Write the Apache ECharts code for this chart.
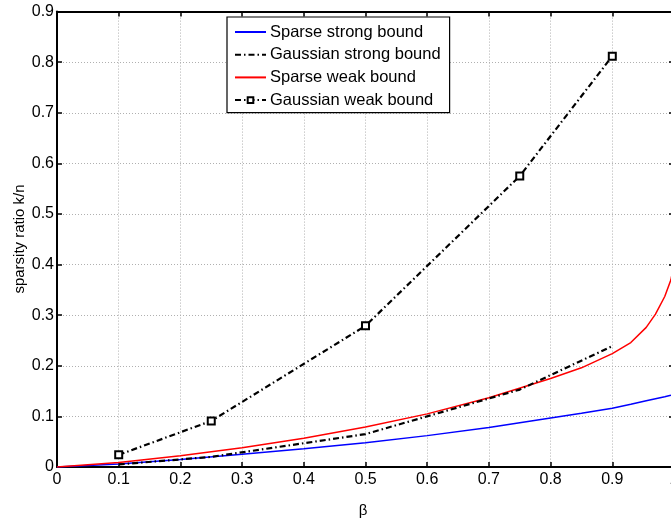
<!DOCTYPE html>
<html>
<head>
<meta charset="utf-8">
<script src="https://cdn.jsdelivr.net/npm/echarts@6/dist/echarts.min.js"></script>
<style>html,body{margin:0;padding:0;background:#fff}#c{width:671px;height:521px}</style>
</head>
<body>
<div id="c"></div>
<script>
// ---- data ----
const betaFine = [0, 0.1, 0.2, 0.3, 0.4, 0.5, 0.6, 0.7, 0.8, 0.85, 0.9, 0.93, 0.955, 0.97, 0.985, 0.995, 1.0];
const sparseStrong = [0, 0.006, 0.015, 0.025, 0.036, 0.048, 0.062, 0.078, 0.097, 0.106, 0.116, 0.124, 0.131, 0.135, 0.139, 0.142, 0.144];
const sparseWeak = [0, 0.009, 0.022, 0.038, 0.057, 0.079, 0.105, 0.137, 0.175, 0.196, 0.224, 0.246, 0.276, 0.302, 0.337, 0.37, 0.40];
const betaGauss = [0.1, 0.25, 0.5, 0.75, 0.9];
const gaussStrong = [0.005, 0.02, 0.065, 0.153, 0.239];
const gaussWeak = [0.024, 0.091, 0.279, 0.575, 0.812];
const seriesNames = ['Sparse strong bound', 'Gaussian strong bound', 'Sparse weak bound', 'Gaussian weak bound'];
const xTitle = 'β';
const yTitle = 'sparsity ratio k/n';

const pairs = (xs, ys) => xs.map((x, i) => [x, ys[i]]);
const FONT = '"Liberation Sans", Arial, Helvetica, sans-serif';
const dashDot = [6, 3, 1.5, 3];

const axisCommon = {
  type: 'value', min: 0, interval: 0.1,
  axisLine: { show: true, onZero: false, lineStyle: { color: '#000', width: 2 } },
  axisTick: { show: true, inside: true, length: 5, lineStyle: { color: '#000', width: 1.5 } },
  minorTick: { show: false }
};
const hidden = { opacity: 0, color: 'rgba(0,0,0,0)', borderColor: 'rgba(0,0,0,0)', borderWidth: 0 };

const chart = echarts.init(document.getElementById('c'), null, { renderer: 'canvas' });
chart.setOption({
  animation: false,
  backgroundColor: '#fff',
  textStyle: { fontFamily: FONT },
  grid: { left: 57, right: -3, top: 11.6, bottom: 54, containLabel: false, outerBoundsMode: 'none' },
  legend: {
    orient: 'vertical', left: 227, top: 17,
    data: [
      { name: seriesNames[0], itemStyle: hidden },
      { name: seriesNames[1], itemStyle: hidden },
      { name: seriesNames[2], itemStyle: hidden },
      { name: seriesNames[3] }
    ],
    backgroundColor: '#fff', borderColor: '#000', borderWidth: 1.2, borderRadius: 0,
    padding: [6.5, 9, 4, 7], itemWidth: 31, itemHeight: 7, itemGap: 5.7,
    textStyle: { fontFamily: FONT, fontSize: 16.5, color: '#000', padding: [0, 0, 0, -1] }
  },
  graphic: [
    { type: 'text', x: 363, y: 511, silent: true,
      style: { text: xTitle, font: '15px ' + FONT, fill: '#000', textAlign: 'center', textVerticalAlign: 'middle' } },
    { type: 'text', x: 20, y: 239, rotation: Math.PI / 2, silent: true,
      style: { text: yTitle, font: '15px ' + FONT, fill: '#000', textAlign: 'center', textVerticalAlign: 'middle' } }
  ],
  xAxis: [
    Object.assign({}, axisCommon, {
      max: 1, position: 'bottom',
      axisLabel: { color: '#000', fontSize: 16, fontFamily: FONT, margin: 5,
        formatter: v => (Math.round(v * 10) / 10).toString() },
      splitLine: { show: true, lineStyle: { color: '#b0b0b0', width: 1, type: [1, 2] } }
    }),
    Object.assign({}, axisCommon, {
      max: 1, position: 'top',
      axisLabel: { show: false }, splitLine: { show: false }
    })
  ],
  yAxis: [
    Object.assign({}, axisCommon, {
      max: 0.9, position: 'left',
      axisLabel: { color: '#000', fontSize: 16, fontFamily: FONT, margin: 3,
        formatter: v => (Math.round(v * 10) / 10).toString() },
      splitLine: { show: true, lineStyle: { color: '#b0b0b0', width: 1, type: [1, 2] } }
    }),
    Object.assign({}, axisCommon, {
      max: 0.9, position: 'right',
      axisLabel: { show: false }, splitLine: { show: false }
    })
  ],
  series: [
    { name: seriesNames[0], type: 'line', data: pairs(betaFine, sparseStrong),
      symbol: 'none',
      lineStyle: { color: '#0000ff', width: 1.5 }, itemStyle: { color: '#0000ff' }, z: 3 },
    { name: seriesNames[1], type: 'line', data: pairs(betaGauss, gaussStrong),
      symbol: 'none',
      lineStyle: { color: '#000', width: 2.2, type: dashDot }, itemStyle: { color: '#000' }, z: 4 },
    { name: seriesNames[2], type: 'line', data: pairs(betaFine, sparseWeak),
      symbol: 'none',
      lineStyle: { color: '#ff0000', width: 1.5 }, itemStyle: { color: '#ff0000' }, z: 3 },
    { name: seriesNames[3], type: 'line', data: pairs(betaGauss, gaussWeak),
      symbol: 'rect', symbolSize: 7, showSymbol: true,
      lineStyle: { color: '#000', width: 2.2, type: dashDot },
      itemStyle: { color: '#fff', borderColor: '#000', borderWidth: 2 }, z: 5 }
  ]
});
</script>
</body>
</html>
